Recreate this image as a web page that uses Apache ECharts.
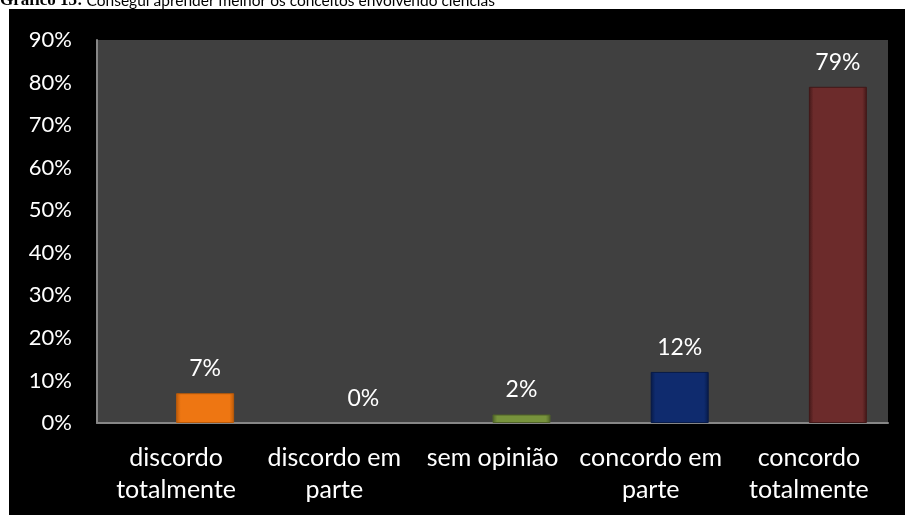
<!DOCTYPE html>
<html>
<head>
<meta charset="utf-8">
<script src="https://cdn.jsdelivr.net/npm/echarts@6/dist/echarts.min.js"></script>
<style>
  html, body { margin: 0; padding: 0; background: #ffffff; }
  #chart { width: 905px; height: 515px; }
</style>
</head>
<body>
<div id="chart"></div>
<script>
// Survey answers and their shares (percent)
const categories = ['discordo\ntotalmente', 'discordo em\nparte', 'sem opinião', 'concordo em\nparte', 'concordo\ntotalmente'];
const shares = [7, 0, 2, 12, 79];
const barColors = ['#EE7612', '#E36C09', '#77933C', '#0F2B6E', '#6C2B2B'];
const lightColors = ['#F79A45', '#F79A45', '#94B35A', '#3A5A9E', '#96494A'];
const edgeColors = ['#B95A0A', '#B95A0A', '#4F6228', '#071A48', '#421818'];
const yTicks = { min: 0, max: 90, step: 10 };
const caption = { bold: 'Gráfico 13:', text: ' Consegui aprender melhor os conceitos envolvendo ciências' };

const FONT = 'Lato, "Open Sans", sans-serif';

// bevelled look: darker side edges, lighter rim at the top
function bevel(base, light, edge) {
  return {
    type: 'linear', x: 0, y: 0, x2: 1, y2: 0,
    colorStops: [
      { offset: 0, color: edge },
      { offset: 0.08, color: base },
      { offset: 0.5, color: base },
      { offset: 0.92, color: base },
      { offset: 1, color: edge }
    ]
  };
}

const chart = echarts.init(document.getElementById('chart'), null, { renderer: 'canvas' });

chart.setOption({
  backgroundColor: '#ffffff',
  animation: false,
  graphic: [
    { type: 'rect', z: -10, shape: { x: 9, y: 9, width: 896, height: 506 }, style: { fill: '#000000' } },
    {
      type: 'text', left: 0, top: -8,
      style: {
        text: '{b|' + caption.bold + '}{n|' + caption.text + '}',
        rich: {
          b: { fontFamily: '"Liberation Serif", serif', fontWeight: 'bold', fontSize: 17, fill: '#000' },
          n: { fontFamily: FONT, fontSize: 15.5, fill: '#000' }
        }
      }
    }
  ],
  grid: {
    left: 97, right: 17, top: 40, bottom: 92,
    show: true, backgroundColor: '#404040', borderWidth: 0
  },
  xAxis: {
    type: 'category',
    data: categories,
    axisLine: { show: true, lineStyle: { color: '#868686', width: 2 } },
    axisTick: { show: false },
    axisLabel: {
      color: '#ffffff', fontFamily: FONT, fontSize: 25, lineHeight: 32,
      margin: 19, interval: 0
    },
    splitLine: { show: false }
  },
  yAxis: {
    type: 'value',
    min: yTicks.min, max: yTicks.max, interval: yTicks.step,
    axisLine: { show: true, lineStyle: { color: '#868686', width: 2 } },
    axisTick: { show: false },
    axisLabel: { color: '#ffffff', fontFamily: FONT, fontSize: 22, margin: 25, formatter: '{value}%' },
    splitLine: { show: false }
  },
  series: [
    {
      // empty companion series occupying the left half of each slot
      name: 'série 1', type: 'bar', barWidth: 58, barGap: '0%',
      data: categories.map(() => null)
    },
    {
      name: 'série 2', type: 'bar', barWidth: 58, barGap: '0%',
      data: shares.map((v, i) => ({
        value: v,
        itemStyle: {
          color: bevel(barColors[i], lightColors[i], edgeColors[i]),
          borderColor: edgeColors[i],
          borderWidth: v > 0 ? 1 : 0
        }
      })),
      label: {
        show: true, position: 'top', distance: 13,
        color: '#ffffff', fontFamily: FONT, fontSize: 23,
        formatter: p => p.value + '%'
      }
    }
  ]
});
</script>
</body>
</html>
